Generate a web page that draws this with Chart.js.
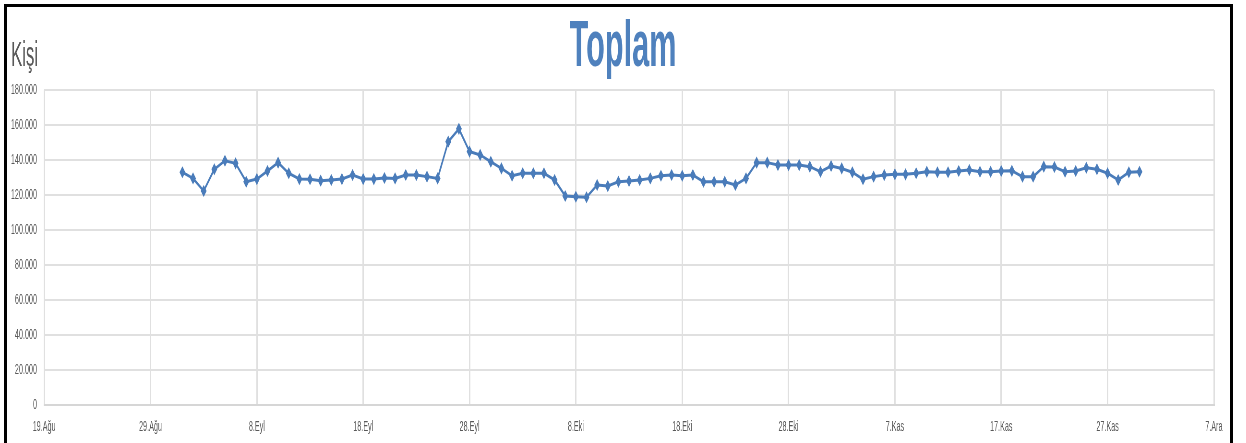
<!DOCTYPE html>
<html lang="tr">
<head>
<meta charset="utf-8">
<title>Toplam</title>
<script src="https://cdn.jsdelivr.net/npm/chart.js@4.4.1/dist/chart.umd.min.js"></script>
<style>
  html, body { margin: 0; padding: 0; background: #fff; overflow: hidden; }
  #stage { position: relative; width: 1246px; height: 443px; overflow: hidden; }
  /* the chart is laid out wide and then condensed horizontally */
  #wrap { position: absolute; left: 0; top: 0; width: 2596px; height: 443px;
          transform: scaleX(0.48); transform-origin: 0 0; }
  #frame { position: absolute; left: 4px; top: 4px; width: 1229px; height: 520px;
           box-sizing: border-box; border: 3px solid #000; pointer-events: none; }
</style>
</head>
<body>
<div id="stage">
  <div id="wrap"><canvas id="c" width="2596" height="443"></canvas></div>
  <div id="frame"></div>
</div>
<script>
// Daily totals, 1 Eylül – 30 Kasım
const firstDay = 13;            // day offset of 1.Eyl counted from 19.Ağu
const unitLabel = 'Kişi';
const chartTitle = 'Toplam';

const eylul = [133000, 129500, 122300, 134700, 139600, 138100, 127600, 129100, 133700, 138500,
               132400, 129100, 129000, 128200, 128600, 129100, 131400, 129100, 129100, 129700,
               129500, 131400, 131400, 130500, 129500, 150500, 157800, 144800, 142900, 139000];
const ekim  = [135200, 131000, 132400, 132400, 132400, 128600, 119400, 119000, 118700, 125700,
               125100, 127600, 128000, 128600, 129500, 131000, 131400, 131000, 131400, 127600,
               127600, 127600, 125700, 129500, 138500, 138500, 137100, 137100, 137100, 136200,
               133300];
const kasim = [136600, 135200, 133000, 129000, 130500, 131400, 131800, 131800, 132400, 133300,
               133000, 133000, 133700, 134300, 133300, 133300, 133700, 133800, 130500, 130500,
               136200, 136000, 133300, 133700, 135600, 134700, 132400, 128600, 133000, 133300];

const xTickLabels = ['19.Ağu', '29.Ağu', '8.Eyl', '18.Eyl', '28.Eyl', '8.Eki',
                     '18.Eki', '28.Eki', '7.Kas', '17.Kas', '27.Kas', '7.Ara'];

const values = eylul.concat(ekim, kasim);
const points = values.map((v, i) => ({ x: firstDay + i, y: v }));

const blue = '#4a7cba';
const grid = '#e0e0e0';
const tickColor = '#595959';
const fontFamily = '"Liberation Sans", Arial, sans-serif';

const unitPlugin = {
  id: 'unitLabel',
  afterDraw(chart) {
    const ctx = chart.ctx;
    ctx.save();
    ctx.font = '35px ' + fontFamily;
    ctx.fillStyle = tickColor;
    ctx.textBaseline = 'alphabetic';
    ctx.textAlign = 'left';
    ctx.fillText(unitLabel, 23, 66);
    ctx.restore();
  }
};

new Chart(document.getElementById('c'), {
  type: 'line',
  data: {
    datasets: [{
      data: points,
      borderColor: blue,
      backgroundColor: blue,
      borderWidth: 3,
      tension: 0,
      pointStyle: 'rectRot',
      pointRadius: 5,
      pointBorderWidth: 1.5,
      pointBackgroundColor: blue,
      pointBorderColor: blue
    }]
  },
  options: {
    responsive: false,
    devicePixelRatio: 1,
    animation: false,
    layout: { padding: 0 },
    plugins: {
      legend: { display: false },
      tooltip: { enabled: false },
      title: {
        display: true,
        text: chartTitle,
        color: '#4f81bd',
        font: { family: fontFamily, size: 64, weight: 'bold' },
        padding: { top: 9.5, bottom: 3.7 }
      }
    },
    scales: {
      x: {
        type: 'linear',
        min: 0,
        max: 110,
        grid: { color: grid, lineWidth: 3, drawTicks: false },
        border: { color: '#d6d6d6', width: 2 },
        afterFit: (s) => { s.height = 38; },
        ticks: {
          stepSize: 10,
          padding: 13,
          color: tickColor,
          font: { family: fontFamily, size: 15 },
          maxRotation: 0,
          autoSkip: false,
          callback: (v) => xTickLabels[Math.round(v / 10)]
        }
      },
      y: {
        min: 0,
        max: 180000,
        grid: { color: grid, lineWidth: 2, drawTicks: false },
        border: { display: false },
        afterFit: (s) => { s.width = 92; },
        ticks: {
          stepSize: 20000,
          padding: 15,
          color: tickColor,
          font: { family: fontFamily, size: 15 },
          callback: (v) => v === 0 ? '0' : String(v).replace(/\B(?=(\d{3})+(?!\d))/g, '.')
        }
      },
      // empty right-hand margin axis, keeps the plot clear of the right edge
      yMargin: {
        position: 'right',
        min: 0,
        max: 180000,
        grid: { drawOnChartArea: false, drawTicks: false },
        border: { display: false },
        ticks: { display: false },
        afterFit: (s) => { s.width = 67; }
      }
    }
  },
  plugins: [unitPlugin]
});
</script>
</body>
</html>
